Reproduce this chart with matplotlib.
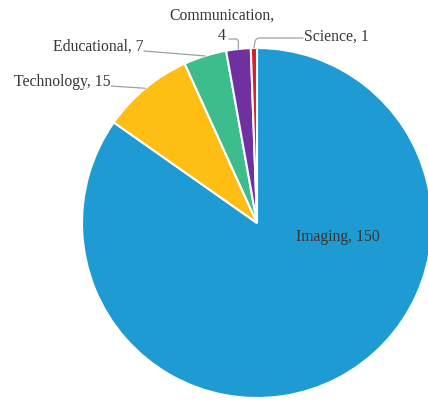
import numpy as np
import matplotlib.pyplot as plt

categories = ['Imaging', 'Technology', 'Educational', 'Communication', 'Science']
counts = [150, 15, 7, 4, 1]
colors = ['#1f9bd3', '#ffbe14', '#3dbc8c', '#7030a0', '#d0202a']

W, H = 428, 403
fig = plt.figure(figsize=(W / 100, H / 100), dpi=100)
ax = fig.add_axes([0, 0, 1, 1])

cx, cy, r = 257, H - 223, 175
wedges, _ = ax.pie(counts, colors=colors, startangle=90, counterclock=False,
                   center=(cx, cy), radius=r, frame=True,
                   wedgeprops=dict(edgecolor='white', linewidth=1.5))
ax.set_xlim(0, W)
ax.set_ylim(0, H)
ax.set_aspect('equal')
ax.axis('off')

font = dict(family='Liberation Serif', fontsize=11.3, color='#363636')
line = dict(arrowstyle='-', color='#a0a0a0', lw=0.9, shrinkA=0, shrinkB=0)

def edge_point(w, frac=1.0):
    mid = np.deg2rad((w.theta1 + w.theta2) / 2)
    return cx + frac * r * np.cos(mid), cy + frac * r * np.sin(mid)

# label text position, alignment and where its leader line starts
label_pos = {
    'Technology': ((111, H - 82), 'right', (111, H - 86), 'arc3'),
    'Educational': ((144, H - 47), 'right', (144, H - 51), 'arc3'),
    'Communication': ((222, H - 26), 'center', (229, H - 39),
                      'angle,angleA=0,angleB=90,rad=3'),
    'Science': ((304, H - 37), 'left', (303, H - 38),
                'angle,angleA=0,angleB=80,rad=4'),
}

for w, name, n in zip(wedges, categories, counts):
    if name == 'Imaging':
        ax.text(338, H - 237, f'{name}, {n}', ha='center', va='center', **font)
        continue
    (tx, ty), ha, start, conn = label_pos[name]
    sep = '\n' if name == 'Communication' else ' '
    ax.text(tx, ty, f'{name},{sep}{n}', ha=ha, va='center',
            linespacing=1.4, **font)
    ax.annotate('', xy=edge_point(w), xytext=start,
                arrowprops=dict(connectionstyle=conn, **line))

fig.savefig('out.png', dpi=100)
